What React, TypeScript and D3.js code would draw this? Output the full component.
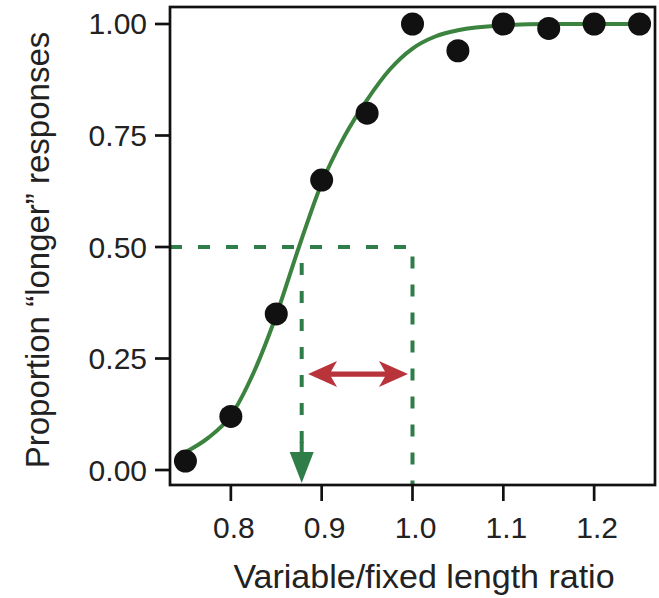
import React from "react";
import * as d3 from "d3";

// observed proportions
const ratios = [0.75, 0.8, 0.85, 0.9, 0.95, 1.0, 1.05, 1.1, 1.15, 1.2, 1.25];
const proportions = [0.02, 0.12, 0.35, 0.65, 0.8, 1.0, 0.94, 1.0, 0.99, 1.0, 1.0];

// fitted psychometric curve
const fitX = [0.75, 0.775, 0.8, 0.825, 0.85, 0.875, 0.9, 0.925, 0.95, 0.975, 1.0, 1.025, 1.05, 1.1, 1.15, 1.2, 1.25];
const fitY = [0.04, 0.072, 0.122, 0.218, 0.347, 0.5, 0.643, 0.748, 0.83, 0.898, 0.945, 0.972, 0.986, 0.997, 1.0, 1.0, 1.0];

const xTicks = [0.8, 0.9, 1.0, 1.1, 1.2];
const yTicks = [0, 0.25, 0.5, 0.75, 1.0];

const pse = 0.878;
const reference = 1.0;
const halfLevel = 0.5;
const arrowLevel = 0.215;
const arrowFrom = 0.885;
const arrowTo = 0.995;

const W = 659;
const H = 598;
const frame = { left: 170, top: 7, right: 655, bottom: 485 };

const green = "#3b833f";
const dashGreen = "#2f7d48";
const red = "#b8333a";
const font = "'Liberation Sans', Arial, Helvetica, sans-serif";

const App = () => {
  const x = d3.scaleLinear().domain([0.733, 1.267]).range([frame.left, frame.right]);
  const y = d3.scaleLinear().domain([-0.0336, 1.0381]).range([frame.bottom, frame.top]);

  const fitLine = d3
    .line<number>()
    .x((d, i) => x(fitX[i]))
    .y((d) => y(d))
    .curve(d3.curveMonotoneX);

  // dashed guides: 0.5 level across to the reference, then down
  const guide = d3.path();
  guide.moveTo(frame.left, y(halfLevel));
  guide.lineTo(x(reference), y(halfLevel));
  guide.lineTo(x(reference), frame.bottom);

  const px = x(pse);
  const headTop = frame.bottom - 33;
  const head = d3.path();
  head.moveTo(px - 12, headTop);
  head.lineTo(px + 12, headTop);
  head.lineTo(px, frame.bottom - 2);
  head.closePath();

  // red double arrow
  const ax0 = x(arrowFrom);
  const ax1 = x(arrowTo);
  const ay = y(arrowLevel);
  const hl = 29;
  const hw = 13;
  const nl = 23;
  const sw = 2.7;
  const dbl = d3.path();
  dbl.moveTo(ax0, ay);
  dbl.lineTo(ax0 + hl, ay - hw);
  dbl.lineTo(ax0 + nl, ay - sw);
  dbl.lineTo(ax1 - nl, ay - sw);
  dbl.lineTo(ax1 - hl, ay - hw);
  dbl.lineTo(ax1, ay);
  dbl.lineTo(ax1 - hl, ay + hw);
  dbl.lineTo(ax1 - nl, ay + sw);
  dbl.lineTo(ax0 + nl, ay + sw);
  dbl.lineTo(ax0 + hl, ay + hw);
  dbl.closePath();

  return (
    <svg
      width={W}
      height={H}
      style={{ position: "absolute", left: 0, top: 0, background: "#fff" }}
      fontFamily={font}
    >
      {/* dashed guides */}
      <path
        d={guide.toString()}
        fill="none"
        stroke={dashGreen}
        strokeWidth={4}
        strokeDasharray="12 16"
      />
      <line
        x1={px}
        x2={px}
        y1={y(halfLevel)}
        y2={headTop + 2}
        stroke={dashGreen}
        strokeWidth={4}
        strokeDasharray="12 16"
        strokeDashoffset={12}
      />
      <line x1={px} x2={px} y1={headTop - 10} y2={headTop + 2} stroke={dashGreen} strokeWidth={4} />
      <path d={head.toString()} fill={dashGreen} />

      <path d={dbl.toString()} fill={red} />

      {/* fitted curve */}
      <path d={fitLine(fitY) || ""} fill="none" stroke={green} strokeWidth={4} />

      {/* data points */}
      {ratios.map((r, i) => (
        <circle key={r} cx={x(r)} cy={y(proportions[i])} r={11.5} fill="#111" />
      ))}

      {/* frame */}
      <rect
        x={frame.left}
        y={frame.top}
        width={frame.right - frame.left}
        height={frame.bottom - frame.top}
        fill="none"
        stroke="#111"
        strokeWidth={2.7}
      />

      {/* y axis */}
      {yTicks.map((t) => (
        <g key={t}>
          <line x1={frame.left - 15} x2={frame.left} y1={y(t)} y2={y(t)} stroke="#111" strokeWidth={2.7} />
          <text x={147} y={y(t)} dy="0.35em" textAnchor="end" fontSize={30} fill="#222">
            {d3.format(".2f")(t)}
          </text>
        </g>
      ))}

      {/* x axis */}
      {xTicks.map((t) => (
        <g key={t}>
          <line x1={x(t)} x2={x(t)} y1={frame.bottom} y2={frame.bottom + 16} stroke="#111" strokeWidth={2.7} />
          <text x={x(t) + 3} y={538} textAnchor="middle" fontSize={30} fill="#222">
            {d3.format(".1f")(t)}
          </text>
        </g>
      ))}

      <text x={424} y={588} textAnchor="middle" fontSize={34} fill="#222">
        Variable/fixed length ratio
      </text>
      <text
        transform={`translate(49, 250) rotate(-90)`}
        textAnchor="middle"
        fontSize={33}
        fill="#222"
      >
        Proportion “longer” responses
      </text>
    </svg>
  );
};

export default App;
